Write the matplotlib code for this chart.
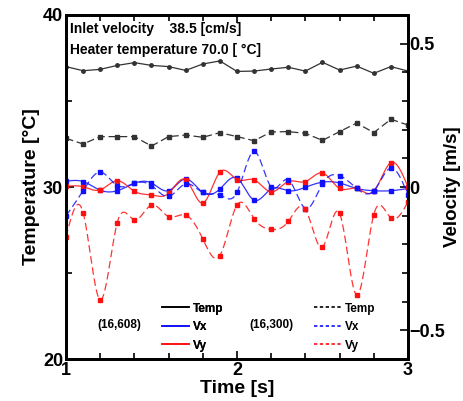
import numpy as np
import matplotlib
matplotlib.use("Agg")
import matplotlib.pyplot as plt
from matplotlib.lines import Line2D
from matplotlib.ticker import MultipleLocator

plt.rcParams['font.family'] = ['Liberation Sans', 'DejaVu Sans']
plt.rcParams['font.weight'] = 'bold'

# time axis, 0.1 s steps
time = np.round(np.arange(1.0, 3.0001, 0.1), 2)

# probe (16,608) - solid lines
temp_608 = [37.00, 36.76, 36.84, 37.07, 37.23, 37.07, 37.00, 36.78, 37.15, 37.33, 36.72,
            36.74, 36.86, 36.96, 36.74, 37.25, 36.80, 37.03, 36.61, 37.00, 36.74]
vx_608 = [0.020, 0.019, -0.011, -0.013, 0.013, 0.014, -0.013, 0.028, -0.019, -0.007, 0.031,
          -0.046, -0.007, -0.013, -0.001, 0.017, 0.014, -0.005, -0.013, -0.013, -0.005]
vy_608 = [0.002, 0.001, -0.010, 0.022, -0.015, -0.028, -0.022, 0.025, -0.056, 0.052, 0.026,
          0.025, -0.017, 0.019, 0.019, 0.049, -0.005, -0.005, -0.015, 0.085, 0.000]

# probe (16,300) - dashed lines
temp_300 = [32.83, 32.50, 32.93, 32.93, 32.93, 32.38, 32.93, 33.02, 32.89, 33.16, 32.93,
            32.69, 33.20, 33.22, 33.12, 32.71, 33.22, 33.72, 33.16, 33.94, 33.60]
vx_300 = [-0.101, -0.013, 0.052, 0.005, 0.013, 0.005, -0.033, 0.011, -0.019, -0.028, -0.019,
          0.124, 0.000, 0.025, -0.075, 0.011, 0.040, -0.005, -0.013, 0.066, -0.028]
vy_300 = [-0.175, -0.089, -0.394, -0.124, -0.115, -0.063, -0.103, -0.098, -0.181, -0.239, -0.063,
          -0.110, -0.148, -0.120, -0.077, -0.209, -0.092, -0.377, -0.096, -0.108, -0.052]


def smooth(x, y, n=20):
    # natural cubic spline through the points, only for drawing the curve
    x = np.asarray(x, float)
    y = np.asarray(y, float)
    m = len(x)
    h = np.diff(x)
    A = np.zeros((m, m))
    b = np.zeros(m)
    A[0, 0] = A[-1, -1] = 1
    for i in range(1, m - 1):
        A[i, i - 1] = h[i - 1]
        A[i, i] = 2 * (h[i - 1] + h[i])
        A[i, i + 1] = h[i]
        b[i] = 6 * ((y[i + 1] - y[i]) / h[i] - (y[i] - y[i - 1]) / h[i - 1])
    M = np.linalg.solve(A, b)
    xs, ys = [], []
    for i in range(m - 1):
        t = np.linspace(x[i], x[i + 1], n, endpoint=False)
        a = x[i + 1] - t
        c = t - x[i]
        s = (M[i] * a ** 3 + M[i + 1] * c ** 3) / (6 * h[i]) \
            + (y[i] / h[i] - M[i] * h[i] / 6) * a + (y[i + 1] / h[i] - M[i + 1] * h[i] / 6) * c
        xs.extend(t)
        ys.extend(s)
    xs.append(x[-1])
    ys.append(y[-1])
    return np.array(xs), np.array(ys)


fig = plt.figure(figsize=(4.64, 4.01), dpi=100)
ax = fig.add_axes([0.1422, 0.1047, 0.7371, 0.8579])
ax2 = ax.twinx()

gray = '#333333'
ax.plot(time, temp_608, color=gray, lw=0.9, marker='o', ms=2.5)
ax.plot(time, temp_300, color=gray, lw=0.9, ls=(0, (6, 3)), marker='s', ms=2.2)

for vals, col, ls in [(vx_608, '#1010ff', '-'), (vy_608, '#ff1010', '-'),
                      (vx_300, '#1010ff', (0, (6, 3))), (vy_300, '#ff1010', (0, (6, 3)))]:
    sx, sy = smooth(time, vals)
    ax2.plot(sx, sy, color=col, lw=0.9, ls=ls, alpha=0.85)
    ax2.plot(time, vals, color=col, ls='none', marker='s', ms=3)

ax.set_xlim(1, 3)
ax.set_ylim(20, 40)
ax2.set_ylim(-0.6, 0.6)

ax.xaxis.set_major_locator(MultipleLocator(1))
ax.xaxis.set_minor_locator(MultipleLocator(0.2))
ax.yaxis.set_major_locator(MultipleLocator(10))
ax.yaxis.set_minor_locator(MultipleLocator(5))
ax2.yaxis.set_major_locator(MultipleLocator(0.5))
ax2.yaxis.set_minor_locator(MultipleLocator(0.1))
ax2.set_yticks([-0.5, 0, 0.5])
ax2.set_yticklabels(['\u22120.5', '0', '0.5'])

ax.tick_params(which='both', direction='in', top=True, width=1.2, labelsize=13, pad=2)
ax.tick_params(which='major', length=6)
ax.tick_params(which='minor', length=4)
ax2.tick_params(which='both', direction='in', width=1.2, labelsize=13, pad=1)
ax2.tick_params(which='major', length=6)
ax2.tick_params(which='minor', length=4)

for a in (ax, ax2):
    for sp in a.spines.values():
        sp.set_linewidth(2)

ax.set_xlabel('Time [s]', fontsize=14, fontweight='bold', labelpad=1)
ax.set_ylabel('Temperature [\u00b0C]', fontsize=14, fontweight='bold', labelpad=2)
ax2.set_ylabel('Velocity [m/s]', fontsize=13.5, fontweight='bold', labelpad=-1)

ax.text(0.012, 0.958, 'Inlet velocity    38.5 [cm/s]', transform=ax.transAxes,
        fontsize=10, fontweight='bold', va='center')
ax.text(0.012, 0.898, 'Heater temperature 70.0 [ \u00b0C]', transform=ax.transAxes,
        fontsize=10, fontweight='bold', va='center')

labels = ['Temp', 'Vx', 'Vy']
cols = ['black', '#1010ff', '#ff1010']
h1 = [Line2D([], [], color=c, lw=1.2) for c in cols]
h2 = [Line2D([], [], color=c, lw=1.2, ls=(0, (2, 1.5))) for c in cols]
leg1 = ax.legend(h1, labels, loc='upper left', bbox_to_anchor=(0.25, 0.195), frameon=False,
                 fontsize=8.5, handlelength=2.3, handletextpad=0.3, labelspacing=0.55)
ax.add_artist(leg1)
ax2.legend(h2, labels, loc='upper left', bbox_to_anchor=(0.695, 0.195), frameon=False,
           fontsize=8.5, handlelength=2.3, handletextpad=0.3, labelspacing=0.55)
ax.text(0.155, 0.1, '(16,608)', transform=ax.transAxes, fontsize=8.5, fontweight='bold',
        ha='center', va='center')
ax.text(0.6, 0.1, '(16,300)', transform=ax.transAxes, fontsize=8.5, fontweight='bold',
        ha='center', va='center')

fig.savefig('out.png', dpi=100)
